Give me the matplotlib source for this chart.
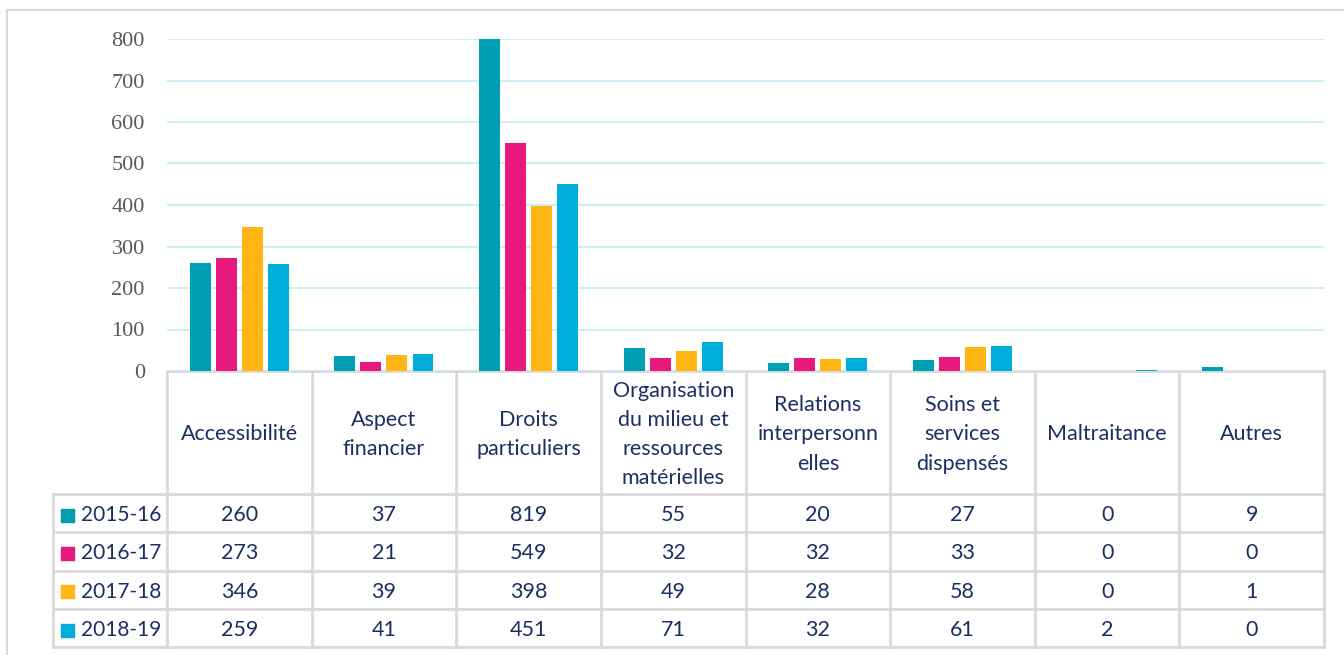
import numpy as np
import matplotlib
matplotlib.use('Agg')
from matplotlib import pyplot as plt

categories = ['Accessibilité', 'Aspect\nfinancier', 'Droits\nparticuliers',
              'Organisation\ndu milieu et\nressources\nmatérielles',
              'Relations\ninterpersonn\nelles', 'Soins et\nservices\ndispensés',
              'Maltraitance', 'Autres']
years = ['2015-16', '2016-17', '2017-18', '2018-19']
v_2015 = [260, 37, 819, 55, 20, 27, 0, 9]
v_2016 = [273, 21, 549, 32, 32, 33, 0, 0]
v_2017 = [346, 39, 398, 49, 28, 58, 0, 1]
v_2018 = [259, 41, 451, 71, 32, 61, 2, 0]
series = [v_2015, v_2016, v_2017, v_2018]
colors = ['#00A0B4', '#E8197D', '#FFB612', '#00AEDC']

W, H = 1344, 655
grid_col = '#D9D9D9'
text_col = '#1B2F63'

fig = plt.figure(figsize=(W / 100, H / 100), dpi=100)

# background layer in pixel coords for frame + table
bg = fig.add_axes([0, 0, 1, 1])
bg.set_xlim(0, W)
bg.set_ylim(H, 0)
bg.axis('off')

x0, x1 = 167, 1324          # plot / table column span
y_base, y_top = 371, 39     # value 0 and value 800
y_head = 494
row_h = 38.3
leg_x = 53
n = len(categories)
col_w = (x1 - x0) / n
dy = 2                      # small text nudge

# chart frame
bg.plot([7, 7, W], [H, 10, 10], color=grid_col, lw=1.5)

# main bar axes
ax = fig.add_axes([x0 / W, (H - y_base) / H, (x1 - x0) / W, (y_base - y_top) / H])
ax.set_xlim(-0.5, n - 0.5)
ax.set_ylim(0, 800)
ax.set_yticks(range(0, 801, 100))
ax.yaxis.grid(True, color='#C6F0F7', lw=1.3)
ax.set_axisbelow(True)
for s in ax.spines.values():
    s.set_visible(False)
ax.tick_params(axis='y', length=0, pad=16, labelsize=16, labelcolor='#595959')
ax.tick_params(axis='x', bottom=False, labelbottom=False)
for lab in ax.get_yticklabels():
    lab.set_fontfamily('Liberation Serif')
ax.patch.set_alpha(0)

x = np.arange(n)
step, bw = 0.18, 0.145
for i, (vals, c) in enumerate(zip(series, colors)):
    ax.bar(x + (i - 1.5) * step, vals, width=bw, color=c)

# table grid
lw = 2
rows_y = [y_head + k * row_h for k in range(len(years) + 1)]
bg.plot([x0, x1], [y_base, y_base], color=grid_col, lw=lw)
for y in rows_y:
    bg.plot([leg_x, x1], [y, y], color=grid_col, lw=lw)
for k in range(n + 1):
    xc = x0 + k * col_w
    bg.plot([xc, xc], [y_base, rows_y[-1]], color=grid_col, lw=lw)
bg.plot([leg_x, leg_x], [y_head, rows_y[-1]], color=grid_col, lw=lw)

font = 'Lato'
fs = 15.5
for k, cat in enumerate(categories):
    bg.text(x0 + (k + 0.5) * col_w, (y_base + y_head) / 2 + dy, cat, ha='center', va='center',
            fontsize=fs, color=text_col, family=font, linespacing=1.57)

for r, (yr, vals, c) in enumerate(zip(years, series, colors)):
    yc = y_head + (r + 0.5) * row_h + dy
    bg.add_patch(plt.Rectangle((61, yc - 6.5), 13, 13, color=c))
    bg.text(81, yc, yr, ha='left', va='center', fontsize=15, color=text_col, family=font)
    for k, v in enumerate(vals):
        bg.text(x0 + (k + 0.5) * col_w, yc, str(v), ha='center', va='center',
                fontsize=fs, color=text_col, family=font)

fig.savefig('out.png', dpi=100)
